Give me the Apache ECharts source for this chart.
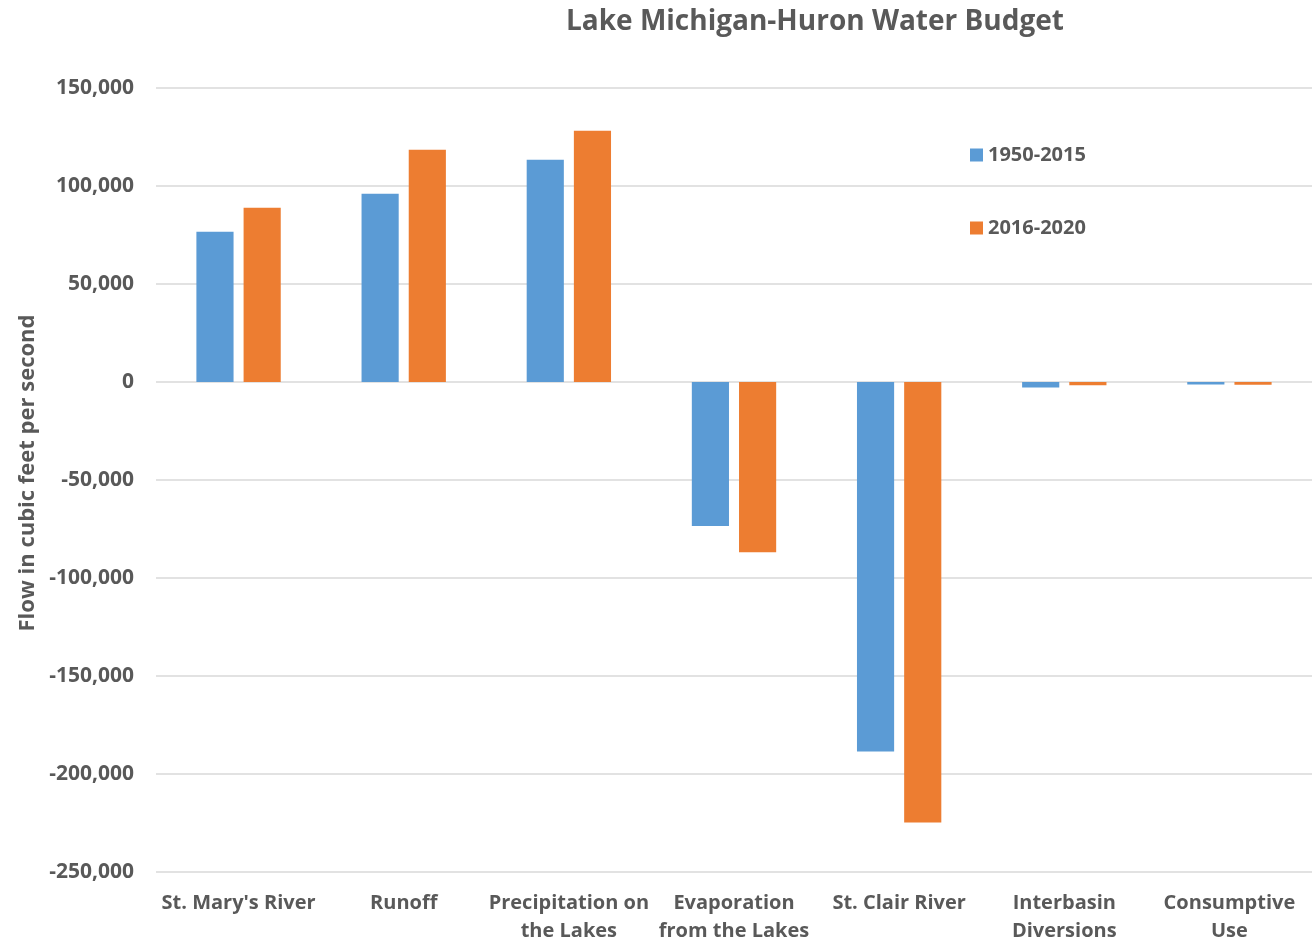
<!DOCTYPE html>
<html>
<head>
<meta charset="utf-8">
<script src="https://cdn.jsdelivr.net/npm/echarts@6/dist/echarts.min.js"></script>
<style>
  html, body { margin: 0; padding: 0; background: #fff; }
  #box { width: 1316px; height: 941px; }
</style>
</head>
<body>
<div id="box"></div>
<script>
const categories = [
  "St. Mary's River",
  'Runoff',
  'Precipitation on\nthe Lakes',
  'Evaporation\nfrom the Lakes',
  'St. Clair River',
  'Interbasin\nDiversions',
  'Consumptive\nUse'
]
const seriesNames = ['1950-2015', '2016-2020']
const flow1950 = [76600, 96000, 113400, -73500, -188500, -2800, -1300]
const flow2016 = [88900, 118500, 128200, -86800, -224700, -1600, -1400]

const textColor = '#595959'
const font = 'Open Sans'

const chart = echarts.init(document.getElementById('box'))
chart.setOption({
  animation: false,
  textStyle: { fontFamily: font },
  title: {
    text: 'Lake Michigan-Huron Water Budget',
    left: 810,
    top: 3,
    textAlign: 'center',
    textStyle: { fontSize: 28, fontWeight: 'bold', color: textColor, fontFamily: font }
  },
  legend: {
    orient: 'vertical',
    left: 965,
    top: 140,
    itemGap: 53,
    itemWidth: 13,
    itemHeight: 13,
    itemStyle: { borderWidth: 0 },
    icon: 'rect',
    textStyle: { fontSize: 20, fontWeight: 'bold', color: textColor, fontFamily: font },
    data: seriesNames
  },
  grid: {
    left: 156,
    right: 4,
    top: 88,
    bottom: 69,
    outerBoundsMode: 'none',
    containLabel: false
  },
  xAxis: {
    type: 'category',
    data: categories,
    position: 'bottom',
    axisLine: { show: false },
    axisTick: { show: false },
    axisLabel: {
      interval: 0,
      margin: 17,
      lineHeight: 28,
      fontSize: 20,
      fontWeight: 'bold',
      color: textColor,
      fontFamily: font
    }
  },
  yAxis: {
    type: 'value',
    min: -250000,
    max: 150000,
    interval: 50000,
    name: 'Flow in cubic feet per second',
    nameLocation: 'middle',
    nameGap: 116,
    nameTextStyle: {
      fontSize: 22,
      fontWeight: 'bold',
      color: textColor,
      fontFamily: font,
      padding: [0, 0, 0, 14]
    },
    axisLine: { show: false },
    axisTick: { show: false },
    splitLine: { lineStyle: { color: '#d9d9d9', width: 1.5 } },
    axisLabel: {
      margin: 22,
      fontSize: 21,
      fontWeight: 'bold',
      color: textColor,
      fontFamily: font,
      formatter: v => v.toLocaleString('en-US')
    }
  },
  series: [
    {
      name: seriesNames[0],
      type: 'bar',
      data: flow1950,
      barWidth: '22.5%',
      barGap: '27%',
      itemStyle: { color: '#5b9bd5' }
    },
    {
      name: seriesNames[1],
      type: 'bar',
      data: flow2016,
      barWidth: '22.5%',
      itemStyle: { color: '#ed7d31' }
    }
  ]
})
</script>
</body>
</html>
